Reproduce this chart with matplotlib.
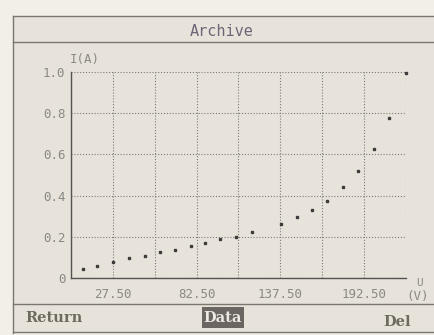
import matplotlib.pyplot as plt
from matplotlib.lines import Line2D
from matplotlib.patches import Rectangle

voltage = [7.9, 17.1, 27.6, 38.1, 48.6, 58.4, 68.3, 78.8, 88.0, 97.8, 108.4,
           118.9, 137.9, 148.4, 158.3, 168.1, 178.6, 188.5, 199.0, 208.8, 220.0]
current = [0.044, 0.058, 0.078, 0.097, 0.107, 0.126, 0.136, 0.155, 0.170,
           0.189, 0.199, 0.223, 0.262, 0.296, 0.330, 0.374, 0.442, 0.519,
           0.626, 0.777, 0.995]

x_grid = [27.5 * i for i in range(9)]
x_labels = ["", "27.50", "", "82.50", "", "137.50", "", "192.50", ""]
y_ticks = [0, 0.2, 0.4, 0.6, 0.8, 1.0]
y_labels = ["0", "0.2", "0.4", "0.6", "0.8", "1.0"]

W, H = 435, 335
bg = "#e7e3db"
frame = "#7a776f"
txt = "#8a8884"
mono = "DejaVu Sans Mono"


def fx(px):
    return px / W


def fy(py):
    return 1 - py / H


fig = plt.figure(figsize=(W / 100, H / 100), dpi=100)
fig.patch.set_facecolor("#f2efe9")

# screen background
fig.add_artist(Rectangle((fx(13), fy(333)), fx(W) - fx(13), fy(16) - fy(333),
                         transform=fig.transFigure, facecolor=bg,
                         edgecolor="none", zorder=0))
for xs, ys in [((13, 435), (16, 16)), ((13, 435), (42, 42)),
               ((13, 435), (304, 304)), ((13, 13), (16, 333)),
               ((13, 435), (332, 332))]:
    fig.add_artist(Line2D([fx(xs[0]), fx(xs[1])], [fy(ys[0]), fy(ys[1])],
                          transform=fig.transFigure, color=frame, lw=1.0))

fig.text(fx(222), fy(31), "Archive", ha="center", va="center",
         family=mono, fontsize=11, color="#6e6678")

ax = fig.add_axes([fx(71), fy(278), fx(406) - fx(71), fy(72) - fy(278)])
ax.set_facecolor(bg)
ax.plot(voltage, current, linestyle="none", marker="s", markersize=1.8,
        color="#3e3c3a", clip_on=False)

ax.set_xlim(0, 220)
ax.set_ylim(0, 1.0)
ax.set_xticks(x_grid)
ax.set_xticklabels(x_labels)
ax.set_yticks(y_ticks)
ax.set_yticklabels(y_labels)
ax.tick_params(length=0, labelsize=9, colors=txt)
ax.tick_params(axis="x", pad=7)
ax.tick_params(axis="y", pad=4)
for lab in ax.get_xticklabels() + ax.get_yticklabels():
    lab.set_family(mono)
ax.grid(True, color="#7d7b78", lw=0.8, linestyle=(0, (1, 1.6)))
ax.set_axisbelow(True)

for side in ["top", "right"]:
    ax.spines[side].set_visible(False)
for side in ["left", "bottom"]:
    ax.spines[side].set_color("#55534f")
    ax.spines[side].set_linewidth(1.0)

ax.text(-0.005, 1.03, "I(A)", transform=ax.transAxes, ha="left",
        va="bottom", family=mono, fontsize=9, color=txt)
ax.text(1.04, -0.022, "U", transform=ax.transAxes, ha="center",
        va="center", family=mono, fontsize=8, color=txt)
ax.text(1.0, -0.058, "(V)", transform=ax.transAxes, ha="left",
        va="top", family=mono, fontsize=9, color=txt)

# bottom menu bar
fig.text(fx(25), fy(318), "Return", ha="left", va="center",
         family="DejaVu Serif", weight="bold", fontsize=10.5, color="#6d6a60")
fig.add_artist(Rectangle((fx(202), fy(328)), fx(244) - fx(202), fy(307) - fy(328),
                         transform=fig.transFigure, facecolor="#6b6662",
                         edgecolor="none"))
fig.text(fx(223), fy(318), "Data", ha="center", va="center",
         family="DejaVu Serif", weight="bold", fontsize=10.5, color="#ece8e2")
fig.text(fx(411), fy(322), "Del", ha="right", va="center",
         family="DejaVu Serif", weight="bold", fontsize=10.5, color="#6d6a60")

fig.savefig("out.png", dpi=100, facecolor=fig.get_facecolor())
